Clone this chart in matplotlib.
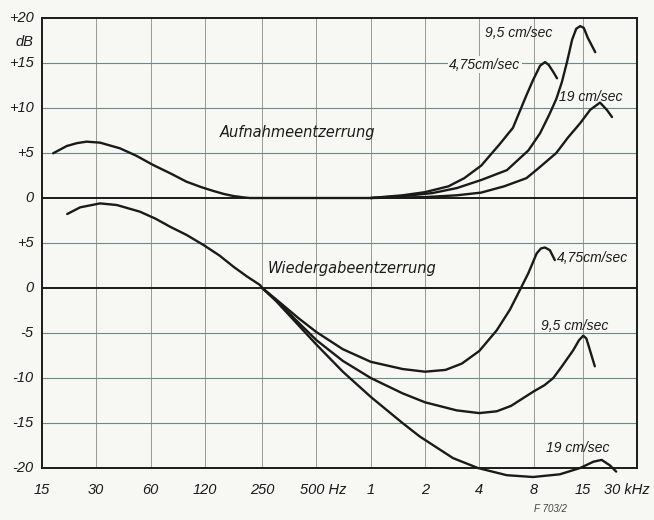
import numpy as np
import matplotlib.pyplot as plt

# frequency axis (Hz) and tick labels
xticks = [15, 30, 60, 120, 250, 500, 1000, 2000, 4000, 8000, 15000, 30000]
xlabels = ['15', '30', '60', '120', '250', '500 Hz', '1', '2', '4', '8', '15', '30 kHz']

# y axis: lower zero at 0, upper (Aufnahme) zero at +10
yticks = [-20, -15, -10, -5, 0, 5, 10, 15, 20, 25, 30]
ylabels = ['-20', '-15', '-10', '-5', '0', '+5', '0', '+5', '+10', '+15', '+20']
upper_offset = 10

# Aufnahmeentzerrung (recording), common low-frequency part
rec_f = [17.3, 20.6, 23.5, 26.5, 31.5, 40.6, 50, 62, 78, 95, 115, 134, 153, 173, 195, 213, 250, 500, 1000]
rec_db = [4.97, 5.78, 6.1, 6.26, 6.15, 5.52, 4.7, 3.67, 2.7, 1.81, 1.2, 0.78, 0.45, 0.22, 0.08, 0.0, 0.0, 0.0, 0.0]

rec475_f = [1000, 1500, 2000, 2700, 3300, 4100, 5200, 6150, 6700, 7300, 7950, 8700, 9260, 9700, 10300, 10800]
rec475_db = [0.0, 0.3, 0.65, 1.3, 2.2, 3.6, 6.0, 7.8, 9.6, 11.4, 13.1, 14.7, 15.1, 14.8, 14.0, 13.3]

rec95_f = [1000, 1500, 2200, 3000, 4100, 5700, 7500, 8700, 9800, 10700, 11500, 12300, 13100, 13800, 14500, 15200, 16000, 17600]
rec95_db = [0.0, 0.2, 0.55, 1.1, 2.0, 3.1, 5.3, 7.2, 9.3, 11.0, 12.9, 15.2, 17.6, 18.8, 19.1, 18.9, 17.8, 16.2]

rec19_f = [1000, 2000, 3000, 4100, 5500, 7300, 8400, 10700, 12400, 14500, 16500, 18700, 20400, 21800]
rec19_db = [0.0, 0.1, 0.3, 0.6, 1.3, 2.2, 3.2, 5.0, 6.7, 8.3, 9.8, 10.6, 9.8, 9.0]

# Wiedergabeentzerrung (playback), common low-frequency part
pb_f = [20.7, 24.4, 31.5, 39, 52.4, 64, 77, 95, 118, 145, 173, 205, 243, 250]
pb_db = [8.22, 8.96, 9.4, 9.22, 8.48, 7.7, 6.81, 5.9, 4.78, 3.6, 2.37, 1.3, 0.33, 0.0]

pb475_f = [250, 300, 400, 500, 700, 1000, 1500, 2000, 2600, 3200, 4000, 5000, 5920, 6730, 7480, 8330, 8800, 9260, 9860, 10500]
pb475_db = [0.0, -1.3, -3.4, -4.9, -6.8, -8.2, -9.0, -9.3, -9.1, -8.4, -7.0, -4.7, -2.4, -0.2, 1.63, 3.85, 4.4, 4.5, 4.2, 3.1]

pb95_f = [250, 300, 400, 500, 700, 1000, 1500, 2000, 3000, 4000, 5000, 6000, 8000, 9200, 10300, 11500, 13300, 14300, 15100, 15700, 16100, 17500]
pb95_db = [0.0, -1.4, -3.9, -5.8, -8.1, -10.0, -11.7, -12.7, -13.6, -13.9, -13.7, -13.1, -11.5, -10.8, -10.0, -8.7, -6.9, -5.8, -5.3, -5.6, -6.3, -8.7]

pb19_f = [250, 300, 400, 500, 700, 1000, 1500, 1870, 2860, 3930, 5680, 7950, 11200, 14500, 17200, 19100, 21200, 23000]
pb19_db = [0.0, -1.5, -4.2, -6.3, -9.3, -12.1, -15.0, -16.5, -18.9, -20.0, -20.8, -21.0, -20.7, -20.0, -19.3, -19.1, -19.7, -20.4]

bg = '#f7f8f4'
ink = '#1a1a1a'
tfont = 'Liberation Sans'

fig = plt.figure(figsize=(6.54, 5.20), dpi=100, facecolor=bg)
ax = fig.add_axes([42 / 654, 1 - 468 / 520, 595 / 654, 450 / 520])
ax.set_facecolor(bg)
ax.set_xscale('log')
ax.set_xlim(15, 30000)
ax.set_ylim(-20, 30)

# grid
for f in xticks[1:-1]:
    ax.axvline(f, color='#9a9a94', lw=0.7, zorder=1)
for y in yticks[1:-1]:
    if y in (0, upper_offset):
        ax.axhline(y, color=ink, lw=1.4, zorder=2)
    else:
        ax.axhline(y, color='#6d8a88', lw=0.8, zorder=1)
for s in ax.spines.values():
    s.set_color(ink)
    s.set_linewidth(1.4)

ax.set_xticks([])
ax.set_yticks([])
ax.minorticks_off()

# tick labels
for y, lab in zip(yticks, ylabels):
    ax.annotate(lab, (15, y), xytext=(-6, 0), textcoords='offset points',
                ha='right', va='center', fontsize=10.5, style='italic',
                family=tfont, color=ink, annotation_clip=False)
ax.annotate('dB', (15, 27.3), xytext=(-6, 0), textcoords='offset points',
            ha='right', va='center', fontsize=10.5, style='italic',
            family=tfont, color=ink, annotation_clip=False)

xshift = {'500 Hz': 5, '30 kHz': -7}
for f, lab in zip(xticks, xlabels):
    ax.annotate(lab, (f, -20), xytext=(xshift.get(lab, 0), -16), textcoords='offset points',
                ha='center', va='center', fontsize=10.5, style='italic',
                family=tfont, color=ink, annotation_clip=False)

# curves
kw = dict(color=ink, lw=1.7, zorder=4, clip_on=False, solid_capstyle='round', solid_joinstyle='round')
ax.plot(rec_f, np.array(rec_db) + upper_offset, **kw)
ax.plot(rec475_f, np.array(rec475_db) + upper_offset, **kw)
ax.plot(rec95_f, np.array(rec95_db) + upper_offset, **kw)
ax.plot(rec19_f, np.array(rec19_db) + upper_offset, **kw)
ax.plot(pb_f, pb_db, **kw)
ax.plot(pb475_f, pb475_db, **kw)
ax.plot(pb95_f, pb95_db, **kw)
ax.plot(pb19_f, pb19_db, **kw)

# labels
tk = dict(fontsize=10.5, style='italic', family='DejaVu Sans', color=ink, ha='center', va='center', zorder=5)
sk = dict(fontsize=10, style='italic', family=tfont, color=ink, ha='center', va='center', zorder=5)
box = dict(facecolor=bg, edgecolor='none', pad=1)
ax.text(390, 17.3, 'Aufnahmeentzerrung', **tk)
ax.text(790, 2.2, 'Wiedergabeentzerrung', **tk)
ax.text(6600, 28.3, '9,5 cm/sec', **sk)
ax.text(4300, 24.8, '4,75cm/sec', bbox=box, **sk)
ax.text(16700, 21.2, '19 cm/sec', **sk)
ax.text(16900, 3.3, '4,75cm/sec', **sk)
ax.text(13600, -4.2, '9,5 cm/sec', **sk)
ax.text(14100, -17.8, '19 cm/sec', **sk)

fig.text(550 / 654, 1 - 509 / 520, 'F 703/2', fontsize=7, style='italic',
         family=tfont, color='#444444', ha='center', va='center')

fig.savefig('out.png', dpi=100, facecolor=bg)
